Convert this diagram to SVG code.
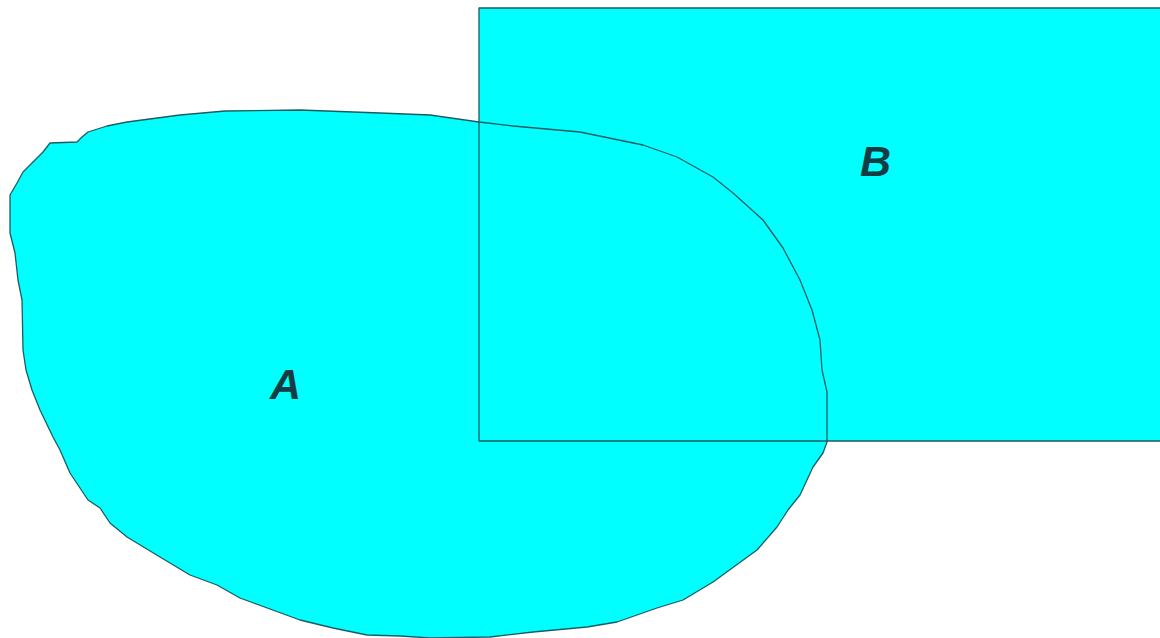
<svg xmlns="http://www.w3.org/2000/svg" xmlns:xlink="http://www.w3.org/1999/xlink" width="1160" height="638" viewBox="0 0 1160 638">
<style>
.fill{fill:#00ffff;stroke:none}
.edge{fill:none;stroke:#1b5c61;stroke-width:1.3;stroke-linejoin:round}
.lbl{font-family:"Liberation Sans",Arial,sans-serif;font-weight:bold;font-style:italic;font-size:43px;fill:#143c42}
</style>
<defs>
<rect id="shapeB" x="479" y="8" width="720" height="433"/>
<path id="shapeA" d="M50,143 L77,142 L82,137 L88,132 L107,126 L127,122 L180,115 L225,111 L300,110 L380,113 L430,115 L479,122 L513,126 L580,132 L643,145 L677,157 L713,177 L733,193 L763,220 L783,248 L800,280 L812,310 L820,340 L822,370 L827,392 L827,442 L823,453 L813,467 L800,495 L788,510 L777,527 L757,550 L713,582 L683,600 L657,608 L617,622 L587,627 L533,632 L490,637 L430,638 L400,636 L367,635 L333,628 L300,620 L240,598 L217,585 L190,575 L160,557 L127,537 L110,523 L100,508 L88,500 L70,473 L60,450 L53,437 L40,410 L32,390 L26,370 L23,350 L22,300 L18,280 L15,253 L10,233 L10,195 L17,183 L23,172 L33,162 L43,152 Z"/>
</defs>
<g id="B">
<use xlink:href="#shapeB" class="fill"/>
</g>
<g id="A">
<use xlink:href="#shapeA" class="fill"/>
</g>
<g id="connectors">
<use xlink:href="#shapeB" class="edge"/>
<use xlink:href="#shapeA" class="edge"/>
</g>
<g id="labels">
<text class="lbl" x="270" y="399">A</text>
<text class="lbl" x="860" y="176">B</text>
</g>
</svg>
